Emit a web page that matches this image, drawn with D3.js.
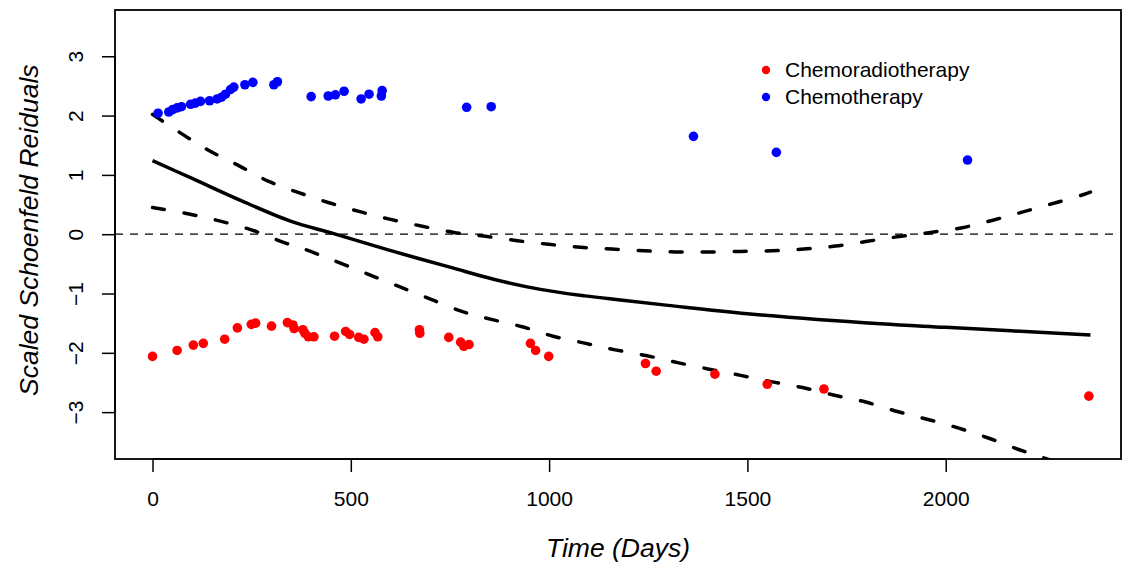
<!DOCTYPE html>
<html>
<head>
<meta charset="utf-8">
<script src="https://cdn.jsdelivr.net/npm/d3@7"></script>
<style>
  body { margin: 0; background: #fff; }
  svg { display: block; font-family: "Liberation Sans", Arial, sans-serif; }
</style>
</head>
<body>
<div id="chart"></div>
<script>
// residual points (days, scaled residual)
const chemoradioDays = [0, 62, 103, 128, 182, 214, 249, 260, 300, 340, 354, 357, 379, 384, 393, 407, 459, 487, 497, 520, 533, 561, 568, 673, 674, 747, 777, 785, 798, 953, 966, 999, 1243, 1270, 1418, 1550, 1693, 2361];
const chemoradioResid = [-2.06, -1.96, -1.87, -1.84, -1.77, -1.58, -1.52, -1.50, -1.55, -1.49, -1.53, -1.59, -1.61, -1.67, -1.73, -1.73, -1.72, -1.64, -1.69, -1.74, -1.77, -1.66, -1.73, -1.61, -1.67, -1.74, -1.82, -1.89, -1.86, -1.84, -1.96, -2.06, -2.18, -2.31, -2.36, -2.53, -2.61, -2.73];

const chemoDays = [14, 41, 51, 62, 73, 96, 108, 121, 144, 163, 174, 184, 197, 205, 233, 253, 306, 315, 400, 443, 461, 483, 526, 546, 577, 579, 792, 854, 1364, 1573, 2055];
const chemoResid = [2.04, 2.06, 2.10, 2.13, 2.15, 2.19, 2.21, 2.24, 2.25, 2.28, 2.31, 2.36, 2.44, 2.48, 2.52, 2.56, 2.52, 2.57, 2.32, 2.33, 2.35, 2.41, 2.28, 2.36, 2.33, 2.42, 2.14, 2.15, 1.65, 1.38, 1.25];

// smoothed fit and confidence band
const fitDays = [0, 100, 222, 348, 457, 592, 752, 860, 978, 1090, 1180, 1300, 1500, 1836, 2000, 2365];
const fitValues = [1.24, 0.94, 0.57, 0.22, 0.01, -0.26, -0.56, -0.76, -0.93, -1.04, -1.11, -1.20, -1.34, -1.51, -1.57, -1.70];

const upperDays = [0, 79, 148, 222, 293, 369, 445, 523, 600, 680, 760, 835, 920, 999, 1079, 1159, 1239, 1319, 1399, 1483, 1563, 1642, 1722, 1802, 1882, 1962, 2042, 2121, 2197, 2277, 2348, 2365];
const upperValues = [2.02, 1.67, 1.39, 1.14, 0.89, 0.70, 0.53, 0.38, 0.25, 0.135, 0.03, -0.03, -0.11, -0.17, -0.22, -0.25, -0.28, -0.30, -0.30, -0.29, -0.28, -0.25, -0.20, -0.12, -0.04, 0.03, 0.11, 0.24, 0.38, 0.53, 0.67, 0.71];

const lowerDays = [0, 92, 171, 251, 327, 390, 587, 688, 784, 857, 932, 1010, 1092, 1167, 1247, 1327, 1407, 1483, 1563, 1642, 1722, 1798, 1878, 1953, 2033, 2109, 2184, 2247, 2365];
const lowerValues = [0.45, 0.34, 0.22, 0.07, -0.13, -0.27, -0.79, -1.06, -1.31, -1.44, -1.56, -1.72, -1.84, -1.95, -2.05, -2.17, -2.28, -2.38, -2.49, -2.59, -2.72, -2.83, -2.99, -3.12, -3.27, -3.44, -3.63, -3.77, -4.03];

const xTicks = [0, 500, 1000, 1500, 2000];
const yTicks = [-3, -2, -1, 0, 1, 2, 3];
const groups = ["Chemoradiotherapy", "Chemotherapy"];
const groupColors = ["#ff0000", "#0000ff"];

const width = 1123, height = 565;
const margin = { top: 10, right: 2, bottom: 105, left: 115 };

const svg = d3.select("#chart").append("svg")
  .attr("width", width)
  .attr("height", height);

const x = d3.scaleLinear()
  .domain([-94.6, 2442])
  .range([margin.left, width - margin.right]);

const y = d3.scaleLinear()
  .domain([-3.79, 3.78])
  .range([height - margin.bottom - 1, margin.top]);

svg.append("clipPath").attr("id", "plotclip")
  .append("rect")
  .attr("x", margin.left).attr("y", margin.top)
  .attr("width", width - margin.right - margin.left)
  .attr("height", height - margin.bottom - 1 - margin.top);

const plot = svg.append("g").attr("clip-path", "url(#plotclip)");

// zero reference
plot.append("line")
  .attr("x1", margin.left).attr("x2", width - margin.right)
  .attr("y1", y(0)).attr("y2", y(0))
  .attr("stroke", "#000").attr("stroke-width", 1.3)
  .attr("stroke-dasharray", "8 7");

const line = d3.line()
  .x(d => x(d[0]))
  .y(d => y(d[1]))
  .curve(d3.curveCatmullRom);

plot.append("path")
  .datum(d3.zip(fitDays, fitValues))
  .attr("d", line)
  .attr("fill", "none").attr("stroke", "#000").attr("stroke-width", 3.5);

[[upperDays, upperValues], [lowerDays, lowerValues]].forEach(([dx, dy]) => {
  plot.append("path")
    .datum(d3.zip(dx, dy))
    .attr("d", line)
    .attr("fill", "none").attr("stroke", "#000").attr("stroke-width", 3.5)
    .attr("stroke-linecap", "round")
    .attr("stroke-dasharray", "12 20");
});

plot.append("g").attr("fill", groupColors[0])
  .selectAll("circle")
  .data(d3.zip(chemoradioDays, chemoradioResid))
  .join("circle")
  .attr("cx", d => x(d[0])).attr("cy", d => y(d[1])).attr("r", 4.8);

plot.append("g").attr("fill", groupColors[1])
  .selectAll("circle")
  .data(d3.zip(chemoDays, chemoResid))
  .join("circle")
  .attr("cx", d => x(d[0])).attr("cy", d => y(d[1])).attr("r", 4.8);

// frame
svg.append("rect")
  .attr("x", margin.left).attr("y", margin.top)
  .attr("width", width - margin.right - margin.left)
  .attr("height", height - margin.bottom - 1 - margin.top)
  .attr("fill", "none").attr("stroke", "#000").attr("stroke-width", 1.8);

// axes, R style
const xAxis = svg.append("g")
  .attr("transform", `translate(0,${height - margin.bottom - 1})`)
  .call(d3.axisBottom(x).tickValues(xTicks).tickFormat(d3.format("d"))
    .tickSize(13).tickPadding(19).tickSizeOuter(0));
xAxis.select(".domain").attr("d", `M${x(0)},0H${x(2000)}`).attr("stroke-width", 1.5);
xAxis.selectAll(".tick line").attr("stroke-width", 1.5);
xAxis.selectAll("text").attr("font-size", 21).attr("font-family", null);

const yAxis = svg.append("g")
  .attr("transform", `translate(${margin.left},0)`)
  .call(d3.axisLeft(y).tickValues(yTicks).tickSize(13)
    .tickFormat(d => d < 0 ? "\u2212" + Math.abs(d) : d).tickSizeOuter(0));
yAxis.select(".domain").attr("d", `M0,${y(-3)}V${y(3)}`).attr("stroke-width", 1.5);
yAxis.selectAll(".tick line").attr("stroke-width", 1.5);
yAxis.selectAll("text")
  .attr("font-size", 21).attr("font-family", null)
  .attr("x", null).attr("dy", null)
  .attr("text-anchor", "middle")
  .attr("transform", "translate(-40,0) rotate(-90)")
  .attr("dominant-baseline", "central");

svg.append("text")
  .attr("x", (margin.left + width - margin.right) / 2)
  .attr("y", 557)
  .attr("text-anchor", "middle")
  .attr("font-size", 26.5).attr("font-style", "italic")
  .text("Time (Days)");

svg.append("text")
  .attr("transform", `translate(38,${y(0) - 4}) rotate(-90)`)
  .attr("text-anchor", "middle")
  .attr("font-size", 26.5).attr("font-style", "italic")
  .text("Scaled Schoenfeld Reiduals");

// legend
const legend = svg.append("g").attr("transform", "translate(766,70)");
groups.forEach((g, i) => {
  const row = legend.append("g").attr("transform", `translate(0,${i * 27})`);
  row.append("circle").attr("r", 4.2).attr("fill", groupColors[i]);
  row.append("text").attr("x", 19).attr("dy", "0.35em")
    .attr("font-size", 21).text(g);
});
</script>
</body>
</html>
